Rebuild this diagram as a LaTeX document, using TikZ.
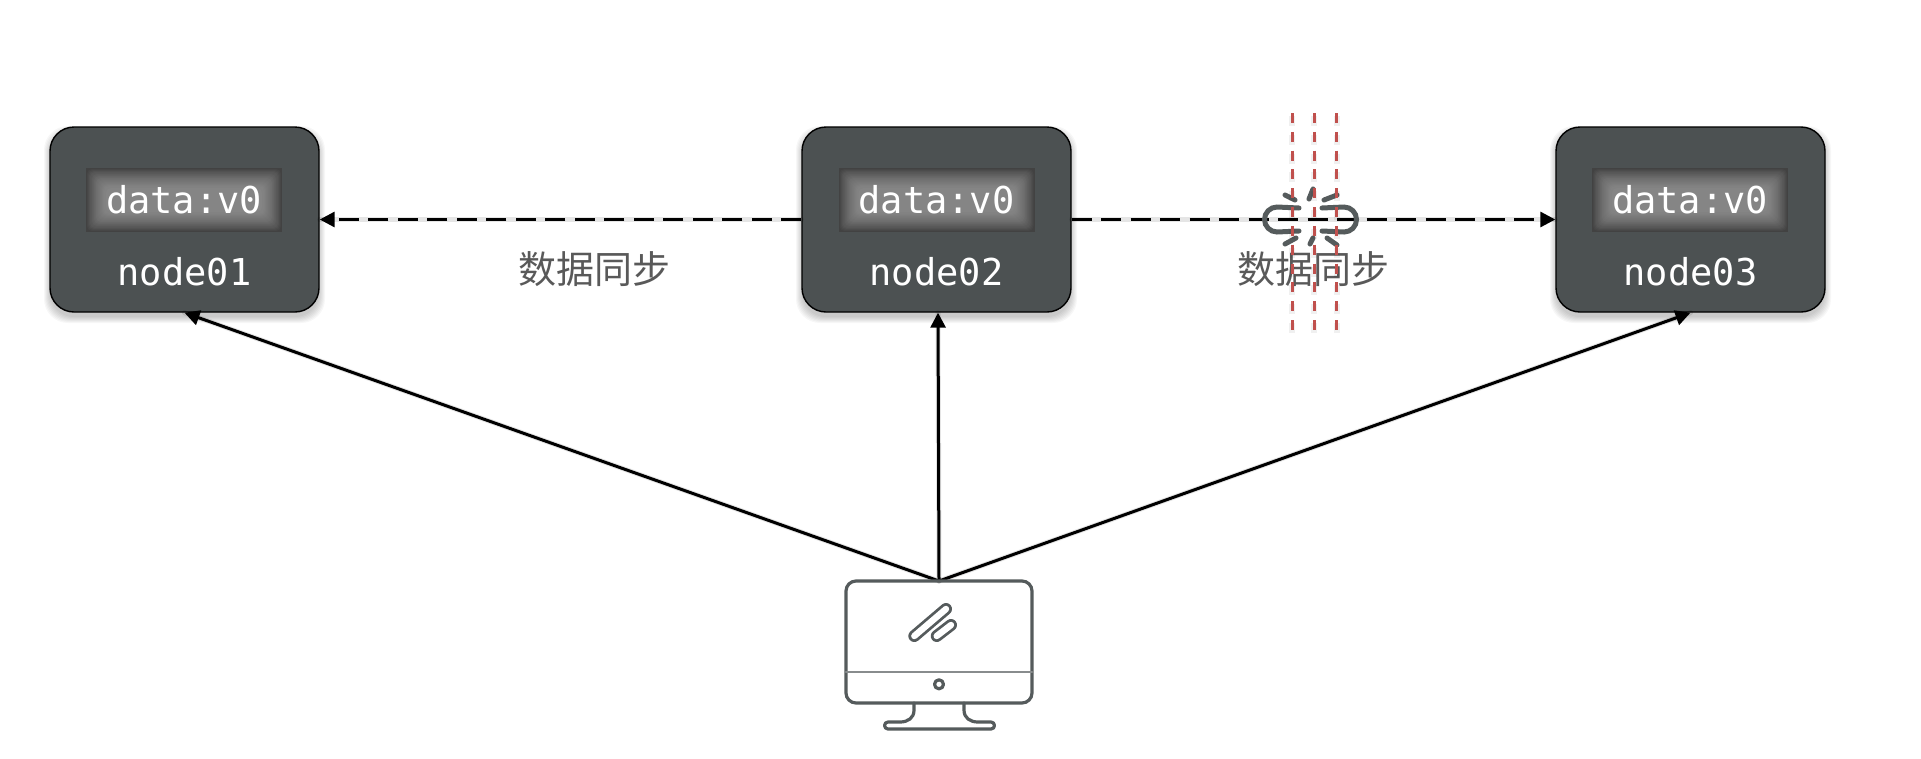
\documentclass[tikz,border=0pt]{standalone}
\usepackage{fontspec}
\setmonofont{DejaVu Sans Mono}
\newfontfamily\cjk{Noto Sans CJK SC}
\usetikzlibrary{arrows.meta,calc}
\definecolor{boxfill}{HTML}{4C5152}
\definecolor{icon}{HTML}{555B5C}
\definecolor{cap}{HTML}{595959}
\definecolor{redline}{HTML}{C0504D}
\tikzset{
  nodebox/.style={draw=black,line width=1.4pt,fill=boxfill,rounded corners=24pt,minimum width=269pt,minimum height=185pt,inner sep=0pt},
  monotext/.style={text=white,font=\ttfamily\fontsize{37}{37}\selectfont,inner sep=0pt},
  cjktext/.style={text=cap,font=\cjk\fontsize{38}{38}\selectfont,inner sep=0pt},
  arrowline/.style={line width=3pt,-{Triangle[length=15pt,width=15pt]},black},
  syncline/.style={line width=3pt,dash pattern=on 20pt off 9.5pt,-{Triangle[length=15pt,width=15pt]},black},
  softline/.style={line width=5pt,draw=black,opacity=.05,line cap=round},
  iconline/.style={draw=icon,line width=3.2pt,line cap=round,line join=round},
  linkline/.style={draw=icon,line width=5pt,line cap=round},
  cutline/.style={draw=redline,line width=3pt,dash pattern=on 10pt off 8.82pt},
}
\newcommand{\shadowbox}[2]{%
  \foreach \g in {0,2,...,12}{
    \fill[black,opacity=.03,rounded corners=24pt]
      ($(#1,#2)+(-134.5-\g/2,-92.5-\g/2+5)$) rectangle ($(#1,#2)+(134.5+\g/2,92.5+\g/2+5)$);
  }}
\newcommand{\glowrect}[2]{%
  \fill[black!74] ($(#1,#2)+(-98,-32)$) rectangle ($(#1,#2)+(98,32)$);
  \foreach \g/\c in {1/28,2/30,3/32,4/34,5/35,6/37,7/38,8/40,9/41,10/43,11/44,12/45,13/46,14/47,15/48,16/49,17/50,18/51,20/52}{
    \fill[white!\c!black,rounded corners=5pt] ($(#1,#2)+(-98+\g,-32+\g)$) rectangle ($(#1,#2)+(98-\g,32-\g)$);
  }}
\begin{document}
\begin{tikzpicture}[x=1pt,y=-1pt]
\useasboundingbox (0,0) rectangle (1921,758);
\fill[white] (0,0) rectangle (1921,758);
% shadows of boxes
\shadowbox{184.5}{219.5}
\shadowbox{936.5}{219.5}
\shadowbox{1690.5}{219.5}
% boxes
\node[nodebox] (n1) at (184.5,219.5) {};
\node[nodebox] (n2) at (936.5,219.5) {};
\node[nodebox] (n3) at (1690.5,219.5) {};
\glowrect{184}{200}
\glowrect{936.5}{200}
\glowrect{1690}{200}
\node[monotext] (d1) at (184,200) {data:v0};
\node[monotext] (d2) at (936.5,200) {data:v0};
\node[monotext] (d3) at (1690,200) {data:v0};
\node[monotext] (l1) at (184.5,272) {node01};
\node[monotext] (l2) at (936.5,272) {node02};
\node[monotext] (l3) at (1690.5,272) {node03};
\coordinate (top) at (939,581);
\coordinate (n2tip) at ($(n2.south)+(1.5,0)$);
% connector shadows
\foreach \k in {3,6}{
  \begin{scope}[yshift=-\k pt]
    \draw[softline] (top) -- (n1.south);
    \draw[softline] (top) -- (n2tip);
    \draw[softline] (top) -- (n3.south);
    \draw[softline] (n2.west) -- (n1.east);
    \draw[softline] (n2.east) -- (n3.west);
  \end{scope}
}
% connectors
\draw[syncline] (n2.west) -- (n1.east);
\draw[syncline] (n2.east) -- (n3.west);
\draw[arrowline] (top) -- (n1.south);
\draw[arrowline] (top) -- (n2tip);
\draw[arrowline] (top) -- (n3.south);
% captions
\node[cjktext] (c1) at (594.5,269.5) {数据同步};
\node[cjktext] (c2) at (1313,269.5) {数据同步};
% broken link
\draw[linkline] (1299,208) -- (1277,207) arc[start angle=-90,end angle=-270,radius=12.5] -- (1299,231);
\draw[linkline] (1322,208) -- (1344,207) arc[start angle=-90,end angle=90,radius=12.5] -- (1322,231);
\draw[linkline] (1285,195) -- (1295,200);
\draw[linkline] (1309,199) -- (1313,189);
\draw[linkline] (1324,200) -- (1337,195);
\draw[linkline] (1285,244) -- (1296,238);
\draw[linkline] (1310,244) -- (1313,238);
\draw[linkline] (1327,238) -- (1337,245);
% red cut lines
\foreach \x in {1292,1314,1336.5}{
  \draw[draw=black,opacity=.06,line width=6pt,dash pattern=on 10pt off 8.82pt] (\x,116) -- (\x,333);
  \draw[cutline] (\x,113) -- (\x,330);
}
% monitor
\draw[iconline,rounded corners=10pt] (846,581) rectangle (1032,703);
\draw[iconline,draw=icon!70,line width=2.8pt] (846,672) -- (1032,672);
\draw[iconline] (939,684.3) circle[radius=4.5];
\draw[iconline] (914,703) -- (914,710) .. controls (914,718) and (908,722) .. (900,722) -- (888,722)
  arc[start angle=-90,end angle=-270,radius=3.5] -- (991,729) arc[start angle=90,end angle=-90,radius=3.5]
  -- (978,722) .. controls (970,722) and (964,718) .. (964,710) -- (964,703);
\draw[draw=icon,line width=12pt,line cap=round] (914.3,636) -- (946,609);
\draw[draw=white,line width=6.4pt,line cap=round] (914.3,636) -- (946,609);
\draw[draw=icon,line width=12pt,line cap=round] (936.7,636) -- (951,625);
\draw[draw=white,line width=6.4pt,line cap=round] (936.7,636) -- (951,625);
\end{tikzpicture}
\end{document}
